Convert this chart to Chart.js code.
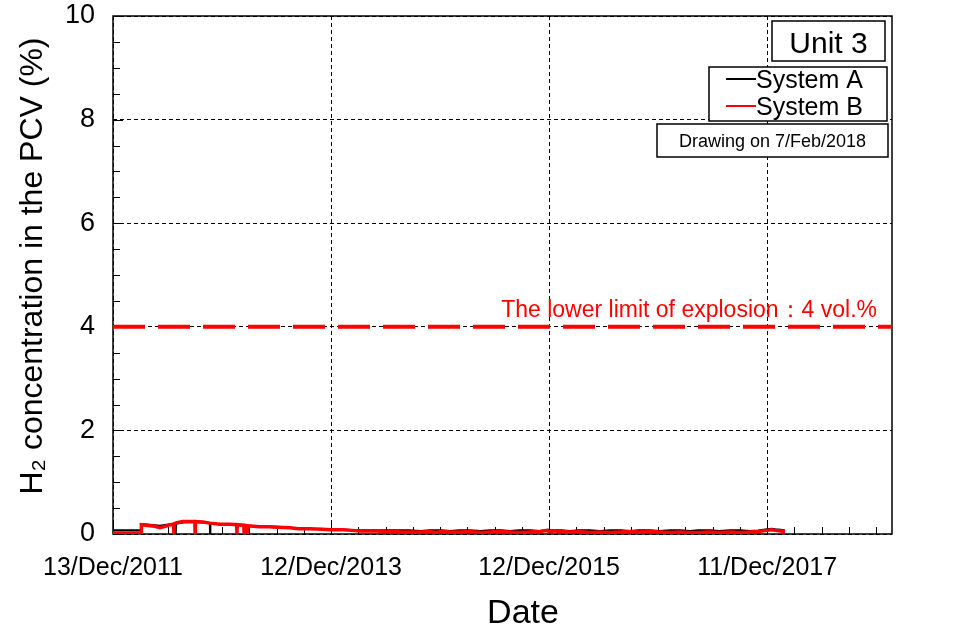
<!DOCTYPE html>
<html>
<head>
<meta charset="utf-8">
<script src="https://cdn.jsdelivr.net/npm/chart.js@4/dist/chart.umd.min.js"></script>
<style>
html,body{margin:0;padding:0;background:#fff;}
canvas{display:block;}
</style>
</head>
<body>
<canvas id="c" width="977" height="638"></canvas>
<script>
// ---- data (days since 13/Dec/2011, H2 %) ----
const xTickDays = [0, 730, 1460, 2190];
const xTickLabels = ['13/Dec/2011', '12/Dec/2013', '12/Dec/2015', '11/Dec/2017'];
const yTickValues = [0, 2, 4, 6, 8, 10];
const seriesNames = ['System A', 'System B'];

const daysA = [0,94,95,124,157,191,209,210,211,234,258,301,324,325,326,358,392,449,492,549,593,660,727,770,827,884,944,
  990,1030,1062,1100,1128,1160,1195,1230,1262,1300,1329,1360,1396,1430,1455,1470,1500,1530,1560,1597,1630,1664,1700,
  1731,1760,1798,1830,1865,1900,1932,1960,1999,2030,2066,2100,2133,2160,2190,2205,2217,2235,2250];
const valuesA = [0.07,0.07,0.19,0.18,0.16,0.19,0.20,0.0,0.20,0.22,0.23,0.22,0.21,0.0,0.20,0.19,0.18,0.16,0.15,0.14,0.12,0.10,0.09,0.08,0.07,0.07,0.07,
  0.07,0.06,0.07,0.07,0.06,0.07,0.07,0.06,0.07,0.07,0.06,0.07,0.07,0.06,0.08,0.07,0.07,0.06,0.07,0.07,0.06,0.07,0.07,
  0.06,0.07,0.07,0.06,0.07,0.07,0.06,0.07,0.07,0.06,0.07,0.07,0.06,0.07,0.09,0.10,0.09,0.08,0.07];

const daysB = [0,94,95,110,124,140,157,175,191,203,204,205,214,234,258,274,275,276,301,325,358,392,414,415,416,438,439,440,448,449,450,
  470,492,520,549,593,620,660,700,727,770,800,827,860,884,910,944,970,995,
  1030,1062,1080,1100,1128,1160,1195,1230,1262,1290,1329,1360,1396,1430,1455,1460,1480,1500,1530,1560,1597,1630,1664,
  1700,1731,1760,1798,1830,1865,1900,1932,1960,1999,2030,2066,2100,2133,2160,2190,2205,2217,2235,2250];
const valuesB = [0.02,0.02,0.18,0.17,0.16,0.15,0.12,0.15,0.18,0.19,0.0,0.20,0.22,0.24,0.24,0.24,0.0,0.24,0.23,0.21,0.19,0.19,0.18,0.02,0.18,0.17,0.0,0.16,0.16,0.02,0.16,
  0.15,0.14,0.14,0.13,0.12,0.10,0.10,0.09,0.08,0.08,0.07,0.06,0.06,0.06,0.05,0.05,0.04,0.04,
  0.04,0.05,0.03,0.05,0.04,0.04,0.05,0.03,0.04,0.05,0.04,0.03,0.04,0.05,0.07,0.04,0.06,0.05,0.04,0.05,0.03,0.04,0.03,
  0.04,0.05,0.04,0.05,0.04,0.03,0.04,0.03,0.03,0.04,0.03,0.04,0.03,0.04,0.05,0.07,0.08,0.07,0.06,0.05];

const limitDays = [0, 2608];
const limitValues = [4, 4];
const limitLabel = 'The lower limit of explosion\uFF1A4 vol.%';
const unitLabel = 'Unit 3';
const drawingLabel = 'Drawing on 7/Feb/2018';
const xTitle = 'Date';
const yTitle = 'H\u2082 concentration in the PCV (%)';

const FONT = "'Liberation Sans', Arial, sans-serif";
const toPts = (d, v) => d.map((x, i) => ({x: x, y: v[i]}));

const decor = {
  id: 'decor',
  beforeDatasetsDraw(chart) {
    const {ctx, chartArea: a, scales: {x, y}} = chart;
    ctx.save();
    ctx.strokeStyle = '#000';
    ctx.lineWidth = 1.5;
    ctx.strokeRect(a.left, a.top, a.right - a.left, a.bottom - a.top);
    ctx.lineWidth = 1;
    ctx.beginPath();
    for (let v = 0; v <= 10.001; v += 0.5) {
      const py = Math.round(y.getPixelForValue(v)) + 0.5;
      const major = Math.abs(v - Math.round(v / 2) * 2) < 1e-6;
      ctx.moveTo(a.left, py);
      ctx.lineTo(a.left + (major ? 10 : 7), py);
    }
    const step = (xTickDays[1] - xTickDays[0]) / 8;
    for (let k = 0; xTickDays[0] + k * step <= x.max; k++) {
      const d = xTickDays[0] + k * step;
      const px = Math.round(x.getPixelForValue(d)) + 0.5;
      ctx.moveTo(px, a.bottom);
      ctx.lineTo(px, a.bottom - (k % 8 === 0 ? 10 : 7));
    }
    ctx.stroke();
    ctx.restore();
  },
  afterDatasetsDraw(chart) {
    const {ctx, scales: {y}} = chart;
    ctx.save();
    ctx.fillStyle = '#ff0000';
    ctx.font = '23px ' + FONT;
    ctx.textAlign = 'right';
    ctx.textBaseline = 'alphabetic';
    ctx.fillText(limitLabel, 877, y.getPixelForValue(limitValues[0]) - 10);

    ctx.lineWidth = 1.5;
    ctx.strokeStyle = '#000';
    ctx.fillStyle = '#fff';
    ctx.fillRect(772, 21, 113, 40);
    ctx.strokeRect(772, 21, 113, 40);
    ctx.fillStyle = '#000';
    ctx.font = '30px ' + FONT;
    ctx.textAlign = 'center';
    ctx.fillText(unitLabel, 828.5, 53);

    ctx.fillStyle = '#fff';
    ctx.fillRect(709, 67, 178, 54);
    ctx.strokeRect(709, 67, 178, 54);
    const ds = chart.data.datasets.filter(d => d.label);
    const byName = seriesNames.map(n => ds.find(d => d.label === n));
    ctx.font = '25px ' + FONT;
    ctx.textAlign = 'left';
    byName.forEach((d, i) => {
      const base = 88 + i * 27;
      ctx.strokeStyle = d.borderColor;
      ctx.lineWidth = 2;
      ctx.beginPath();
      ctx.moveTo(726, base - 9);
      ctx.lineTo(756, base - 9);
      ctx.stroke();
      ctx.fillStyle = '#000';
      ctx.fillText(d.label, 756, base);
    });

    ctx.lineWidth = 1.5;
    ctx.strokeStyle = '#000';
    ctx.fillStyle = '#fff';
    ctx.fillRect(657, 124, 231, 33);
    ctx.strokeRect(657, 124, 231, 33);
    ctx.fillStyle = '#000';
    ctx.font = '18px ' + FONT;
    ctx.textAlign = 'center';
    ctx.fillText(drawingLabel, 772.5, 147);

    ctx.font = '34px ' + FONT;
    ctx.fillText(xTitle, 523, 623);
    ctx.translate(42, 266);
    ctx.rotate(-Math.PI / 2);
    ctx.font = '32px ' + FONT;
    ctx.fillText(yTitle, 0, 0);
    ctx.restore();
  }
};

new Chart(document.getElementById('c'), {
  type: 'line',
  data: {
    datasets: [
      {label: '', data: toPts(limitDays, limitValues), borderColor: '#ff0000', borderWidth: 4, borderDash: [32, 13], order: 2},
      {label: seriesNames[0], data: toPts(daysA, valuesA), borderColor: '#000000', borderWidth: 2, order: 1},
      {label: seriesNames[1], data: toPts(daysB, valuesB), borderColor: '#ff0000', borderWidth: 3.5, order: 0}
    ]
  },
  options: {
    responsive: false,
    animation: false,
    layout: {padding: {left: 0, top: 16, right: 85, bottom: 0}},
    elements: {point: {radius: 0}, line: {tension: 0}},
    plugins: {legend: {display: false}, tooltip: {enabled: false}},
    scales: {
      x: {
        type: 'linear', min: 0, max: 2608,
        afterFit(s) { s.height = 104; s.paddingLeft = 0; s.paddingRight = 0; },
        afterBuildTicks(s) { s.ticks = xTickDays.map(v => ({value: v})); },
        ticks: {
          color: '#000', padding: 19, maxRotation: 0, autoSkip: false,
          font: {family: FONT, size: 25},
          callback: (v) => { const i = xTickDays.indexOf(v); return i >= 0 ? xTickLabels[i] : ''; }
        },
        grid: {color: '#000', lineWidth: 1, drawTicks: false},
        border: {display: false, dash: [4, 3]}
      },
      y: {
        type: 'linear', min: 0, max: 10,
        afterFit(s) { s.width = 113; s.paddingTop = 0; s.paddingBottom = 0; },
        afterBuildTicks(s) { s.ticks = yTickValues.map(v => ({value: v})); },
        ticks: {color: '#000', padding: 18, font: {family: FONT, size: 27}},
        grid: {color: '#000', lineWidth: 1, drawTicks: false},
        border: {display: false, dash: [4, 3]}
      }
    }
  },
  plugins: [decor]
});
</script>
</body>
</html>
